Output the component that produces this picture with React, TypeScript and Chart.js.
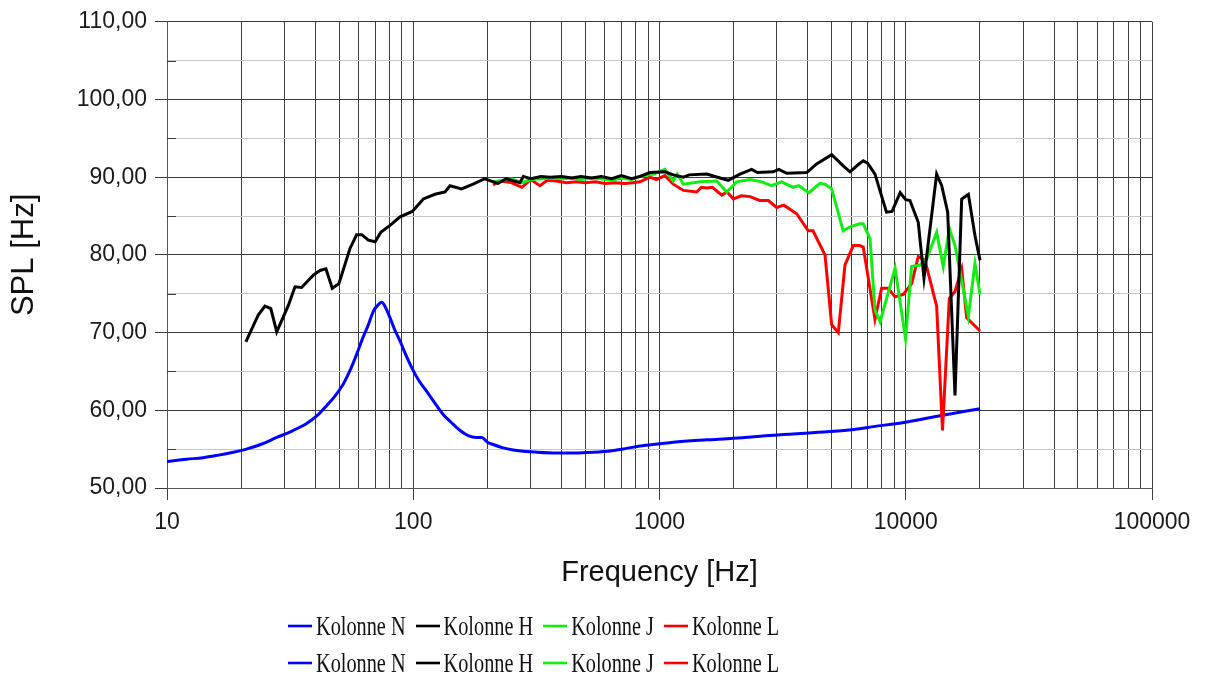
import React, { useEffect, useRef } from "react";
import { Chart, registerables } from "chart.js";

Chart.register(...registerables);

// ---- Data (frequency [Hz], SPL) ----
const kolonneN: [number, number][] = [
  [10, 53.4], [12, 53.7], [14, 53.9], [16, 54.2], [18.6, 54.6], [21, 55.0], [24, 55.6],
  [27.9, 56.5], [32, 57.3], [36.9, 58.3], [41, 59.4], [44.5, 60.6], [48, 61.8], [52, 63.4],
  [55.5, 65.2], [58.9, 67.2], [62, 69.1], [65.7, 71.0], [69, 72.8], [71.2, 73.4], [74.5, 73.9],
  [77, 73.3], [80.5, 71.9], [84, 70.4], [88.4, 68.9], [94, 66.9], [100, 65.1], [106, 63.7],
  [113, 62.5], [122, 61.0], [132, 59.5], [143, 58.4], [155, 57.4], [168, 56.7], [180, 56.5],
  [190, 56.5], [200, 55.9], [211, 55.6], [230, 55.2], [255, 54.9], [300, 54.65], [371, 54.5],
  [450, 54.5], [539, 54.6], [640, 54.8], [736, 55.1], [834, 55.4], [1005, 55.7], [1137, 55.9],
  [1556, 56.2], [2000, 56.4], [2897, 56.8], [4626, 57.2], [6000, 57.5], [7390, 57.9],
  [10100, 58.5], [13770, 59.3], [20030, 60.2],
];

const kolonneH: [number, number][] = [
  [20.9, 68.8], [23.5, 72.3], [25.0, 73.4], [26.4, 73.1], [27.9, 70.1], [31.1, 73.5], [33.1, 75.9],
  [35.2, 75.8], [39.3, 77.4], [41.8, 78.0], [44.2, 78.2], [46.9, 75.7], [49.9, 76.3], [55.3, 80.8],
  [58.9, 82.6], [61.8, 82.6], [65.7, 81.9], [70.0, 81.7], [73.8, 82.9], [80.5, 83.8], [88.4, 84.9],
  [99.1, 85.6], [109.9, 87.2], [122.5, 87.8], [134.6, 88.1], [141, 88.9], [157, 88.5], [175, 89.1],
  [195, 89.8], [221, 89.2], [239, 89.8], [271, 89.3], [280, 90.1], [300, 89.8], [330, 90.1],
  [360, 90.0], [400, 90.1], [440, 89.9], [480, 90.1], [530, 89.9], [580, 90.1], [640, 89.8],
  [700, 90.2], [770, 89.8], [834, 90.1], [914, 90.6], [1052, 90.7], [1137, 90.3], [1250, 90.0],
  [1320, 90.3], [1556, 90.4], [1720, 90.0], [1901, 89.6], [2122, 90.4], [2367, 91.0], [2500, 90.6],
  [2897, 90.7], [3050, 91.0], [3285, 90.5], [3962, 90.6], [4345, 91.7], [5003, 92.9], [5600, 91.4],
  [5940, 90.7], [6400, 91.6], [6720, 92.1], [7000, 91.8], [7500, 90.4], [8350, 85.5], [8800, 85.6],
  [9490, 88.0], [10000, 87.1], [10400, 87.0], [11240, 84.2], [11860, 77.0], [13350, 90.4],
  [14000, 88.9], [14800, 85.5], [15850, 61.9], [16870, 87.2], [17960, 87.8], [19100, 82.5],
  [20030, 79.3],
];

const kolonneJ: [number, number][] = [
  [211, 89.4], [230, 89.6], [250, 89.8], [276, 89.3], [300, 89.7], [330, 89.8], [360, 89.9],
  [400, 89.8], [440, 89.9], [480, 89.7], [530, 89.9], [580, 89.8], [640, 89.6], [700, 89.9],
  [770, 89.7], [834, 90.1], [944, 90.4], [1052, 91.0], [1137, 89.5], [1180, 90.4], [1250, 89.1],
  [1462, 89.4], [1708, 89.5], [1875, 88.1], [2059, 89.4], [2333, 89.7], [2600, 89.4], [2850, 88.9],
  [3131, 89.4], [3490, 88.7], [3680, 88.9], [4045, 88.0], [4486, 89.2], [4700, 89.1], [5003, 88.5],
  [5570, 83.1], [5940, 83.6], [6510, 84.0], [6720, 84.0], [7160, 82.1], [7500, 72.9], [7870, 71.4],
  [9050, 78.3], [9980, 69.2], [10560, 78.5], [11420, 78.7], [12170, 79.5], [13350, 82.9],
  [14200, 78.5], [15030, 83.4], [15850, 81.2], [17960, 72.1], [19100, 78.9], [20030, 74.9],
];

const kolonneL: [number, number][] = [
  [211, 89.0], [225, 89.5], [250, 89.3], [276, 88.7], [300, 89.7], [327, 88.9], [350, 89.6],
  [380, 89.5], [420, 89.3], [460, 89.4], [500, 89.3], [550, 89.4], [600, 89.2], [660, 89.3],
  [720, 89.2], [780, 89.3], [834, 89.4], [914, 90.0], [970, 89.7], [1052, 90.2], [1137, 89.1],
  [1250, 88.3], [1416, 88.1], [1480, 88.7], [1556, 88.6], [1640, 88.7], [1790, 87.7], [1880, 88.1],
  [1995, 87.2], [2150, 87.6], [2333, 87.5], [2550, 87.0], [2767, 87.0], [2991, 86.1], [3200, 86.4],
  [3606, 85.3], [4018, 83.1], [4200, 83.1], [4699, 80.0], [5003, 71.0], [5322, 70.0], [5665, 78.7],
  [6124, 81.2], [6500, 81.2], [6720, 81.0], [7500, 71.7], [7980, 75.7], [8490, 75.7], [9040, 74.6],
  [9770, 74.9], [10570, 76.3], [11240, 79.8], [11970, 79.3], [13350, 73.4], [14100, 57.4],
  [15030, 74.4], [15850, 75.3], [16870, 78.2], [17680, 71.9], [20030, 70.2],
];

const seriesNames = ["Kolonne N", "Kolonne H", "Kolonne J", "Kolonne L"];
const seriesColors = ["#0000ff", "#000000", "#11ee11", "#ff0000"];
const seriesData = [kolonneN, kolonneH, kolonneJ, kolonneL];
const seriesOrder = [4, 1, 2, 3];

const yMin = 50;
const yMax = 110;
const yStep = 5;
const xDecades = [10, 100, 1000, 10000, 100000];
const xAxisTitle = "Frequency [Hz]";
const yAxisTitle = "SPL [Hz]";

const fmtY = (v: number) => v.toFixed(2).replace(".", ",");
const isDecade = (v: number) => Math.abs(Math.log10(v) - Math.round(Math.log10(v))) < 1e-9;

const minorTickPlugin = {
  id: "minorYTicks",
  afterDatasetsDraw(chart: any) {
    const y = chart.scales.y;
    const { ctx, chartArea } = chart;
    ctx.save();
    ctx.strokeStyle = "#3a3a3a";
    ctx.lineWidth = 1;
    for (let v = yMin; v <= yMax; v += yStep) {
      if (v % 10 === 0) continue;
      const py = Math.round(y.getPixelForValue(v)) + 0.5;
      ctx.beginPath();
      ctx.moveTo(chartArea.left, py);
      ctx.lineTo(chartArea.left + 9, py);
      ctx.stroke();
    }
    ctx.restore();
  },
};

export default function App() {
  const ref = useRef<HTMLCanvasElement | null>(null);

  useEffect(() => {
    if (!ref.current) return;
    const chart = new Chart(ref.current, {
      type: "line",
      data: {
        datasets: seriesData.map((d, i) => ({
          label: seriesNames[i],
          data: d.map(([x, y]) => ({ x, y })),
          borderColor: seriesColors[i],
          backgroundColor: seriesColors[i],
          borderWidth: 3,
          pointRadius: 0,
          fill: false,
          tension: 0,
          cubicInterpolationMode: i === 0 ? "monotone" : "default",
          order: seriesOrder[i],
        })),
      },
      options: {
        animation: false,
        responsive: false,
        layout: { padding: { left: 0, right: 53, top: 18, bottom: 80 } },
        plugins: {
          legend: { display: false },
          tooltip: { enabled: false },
        },
        scales: {
          x: {
            type: "logarithmic",
            min: 10,
            max: 100000,
            afterBuildTicks: (scale: any) => {
              const ticks: { value: number }[] = [];
              for (let d = 0; d < xDecades.length - 1; d++) {
                for (let m = 1; m <= 9; m++) ticks.push({ value: xDecades[d] * m });
              }
              ticks.push({ value: xDecades[xDecades.length - 1] });
              scale.ticks = ticks;
            },
            afterFit: (scale: any) => {
              scale.height = 111;
            },
            ticks: {
              autoSkip: false,
              maxRotation: 0,
              padding: 9,
              color: "#1a1a1a",
              font: { family: "'Liberation Sans', Arial, sans-serif", size: 23 },
              callback: (v: any) => (isDecade(Number(v)) ? String(Math.round(Number(v))) : ""),
            },
            grid: {
              color: "#3c3c3c",
              lineWidth: 1,
              tickLength: 12,
              tickColor: (c: any) => (c.tick && isDecade(c.tick.value) ? "#3c3c3c" : "rgba(0,0,0,0)"),
            },
            border: { color: "#555", width: 1 },
            title: {
              display: true,
              text: xAxisTitle,
              color: "#111",
              font: { family: "'Liberation Sans', Arial, sans-serif", size: 29 },
              padding: { top: 0, bottom: 9 },
            },
          },
          y: {
            min: yMin,
            max: yMax,
            afterFit: (scale: any) => {
              scale.width = 167;
            },
            ticks: {
              stepSize: yStep,
              padding: 8,
              color: "#1a1a1a",
              font: { family: "'Liberation Sans', Arial, sans-serif", size: 23 },
              callback: (v: any) => (Number(v) % 10 === 0 ? fmtY(Number(v)) : ""),
            },
            grid: {
              color: (c: any) => (c.tick && c.tick.value % 10 === 0 ? "#3a3a3a" : "#c6c6c6"),
              lineWidth: 1,
              tickLength: 12,
              tickColor: (c: any) => (c.tick && c.tick.value % 10 === 0 ? "#3a3a3a" : "rgba(0,0,0,0)"),
            },
            border: { color: "#555", width: 1 },
            title: {
              display: true,
              text: yAxisTitle,
              color: "#111",
              font: { family: "'Liberation Sans', Arial, sans-serif", size: 31 },
              padding: { top: 6, bottom: 0 },
            },
          },
        },
      },
      plugins: [minorTickPlugin],
    } as any);
    return () => chart.destroy();
  }, []);

  const legendRow = (top: number) => (
    <div
      style={{
        position: "absolute",
        left: 288,
        top,
        height: 30,
        display: "flex",
        alignItems: "center",
        fontFamily: "'Liberation Serif', 'Times New Roman', serif",
        fontSize: 20.3,
        color: "#111",
        transform: "scaleY(1.3)",
        transformOrigin: "center",
        whiteSpace: "nowrap",
      }}
    >
      {seriesNames.map((n, i) => (
        <div key={n} style={{ display: "flex", alignItems: "center", marginRight: 10 }}>
          <span
            style={{
              display: "inline-block",
              width: 24,
              height: 2.6,
              background: seriesColors[i],
              marginRight: 4,
            }}
          />
          <span>{n}</span>
        </div>
      ))}
    </div>
  );

  return (
    <div style={{ position: "absolute", left: 0, top: 0, width: 1205, height: 679, background: "#fff" }}>
      <canvas ref={ref} width={1205} height={679} style={{ width: 1205, height: 679, display: "block" }} />
      {legendRow(611)}
      {legendRow(648)}
    </div>
  );
}
